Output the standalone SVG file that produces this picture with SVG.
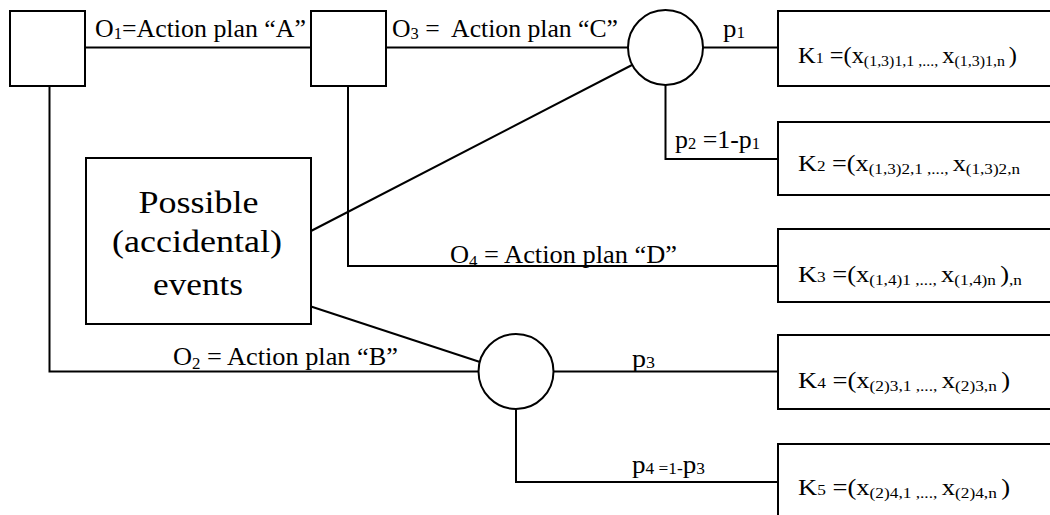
<svg xmlns="http://www.w3.org/2000/svg" width="1050" height="515" viewBox="0 0 1050 515">
<style>
  .ln { stroke:#000; stroke-width:2; fill:none; }
  .bx { stroke:#000; stroke-width:2; fill:#fff; }
  .lbl { font-size:25px; }
  .k { font-size:23px; }
  .big { font-size:31px; }
  .s { font-size:15px; }
  .s2 { font-size:16px; }
</style>
<rect width="1050" height="515" fill="#fff"/>
<g id="connectors" font-family="'Liberation Serif', serif" fill="#000">
  <line class="ln" x1="85" y1="47.5" x2="311" y2="47.5"/>
  <line class="ln" x1="386" y1="47.5" x2="628" y2="47.5"/>
  <line class="ln" x1="703" y1="47.5" x2="778" y2="47.5"/>
  <polyline class="ln" points="665.5,85 665.5,159 778,159"/>
  <line class="ln" x1="311" y1="231" x2="632" y2="65"/>
  <polyline class="ln" points="49.5,86 49.5,371.5 478.5,371.5"/>
  <polyline class="ln" points="348,86 348,266 778,266"/>
  <line class="ln" x1="311" y1="306.5" x2="480" y2="362"/>
  <line class="ln" x1="553.5" y1="371.5" x2="778" y2="371.5"/>
  <polyline class="ln" points="516,409.5 516,482 778,482"/>
  <text class="lbl" font-family="'Liberation Serif', serif" x="95" y="37" textLength="211" lengthAdjust="spacingAndGlyphs">O<tspan class="s2" dy="2">1</tspan><tspan dy="-2">=Action plan “A”</tspan></text>
  <text class="lbl" font-family="'Liberation Serif', serif" x="392" y="37" textLength="226" lengthAdjust="spacingAndGlyphs" xml:space="preserve">O<tspan class="s2" dy="2">3</tspan><tspan dy="-2"> =  Action plan “C”</tspan></text>
  <text class="lbl" font-family="'Liberation Serif', serif" x="723" y="37" textLength="22" lengthAdjust="spacingAndGlyphs">p<tspan class="s2" dy="1">1</tspan></text>
  <text class="lbl" font-family="'Liberation Serif', serif" x="675" y="148" textLength="85" lengthAdjust="spacingAndGlyphs">p<tspan class="s2" dy="1">2</tspan><tspan dy="-1"> =1-p</tspan><tspan class="s2" dy="1">1</tspan></text>
  <text class="lbl" font-family="'Liberation Serif', serif" x="450" y="263" textLength="227" lengthAdjust="spacingAndGlyphs">O<tspan class="s2" dy="4">4</tspan><tspan dy="-4"> = Action plan “D”</tspan></text>
  <text class="lbl" font-family="'Liberation Serif', serif" x="173" y="365" textLength="225" lengthAdjust="spacingAndGlyphs">O<tspan class="s2" dy="4">2</tspan><tspan dy="-4"> = Action plan “B”</tspan></text>
  <text class="lbl" font-family="'Liberation Serif', serif" x="632" y="367" textLength="23" lengthAdjust="spacingAndGlyphs">p<tspan class="s2" dy="1">3</tspan></text>
  <text class="lbl" font-family="'Liberation Serif', serif" x="632" y="473" textLength="73" lengthAdjust="spacingAndGlyphs">p<tspan class="s2" dy="1">4 =1-</tspan><tspan dy="-1">p</tspan><tspan class="s2" dy="1">3</tspan></text>
</g>
<g id="node-a"><rect class="bx" x="10" y="11" width="75" height="75"/></g>
<g id="node-b"><rect class="bx" x="311" y="11" width="75" height="75"/></g>
<g id="chance-1"><circle class="bx" cx="665.5" cy="47.5" r="37.5"/></g>
<g id="chance-2"><circle class="bx" cx="516" cy="371.5" r="37.5"/></g>
<g id="events" font-family="'Liberation Serif', serif">
  <rect class="bx" x="86" y="158" width="225" height="166"/>
  <text class="big" font-family="'Liberation Serif', serif" x="198.5" y="213" text-anchor="middle" textLength="120" lengthAdjust="spacingAndGlyphs">Possible</text>
  <text class="big" font-family="'Liberation Serif', serif" x="197" y="252" text-anchor="middle" textLength="170" lengthAdjust="spacingAndGlyphs">(accidental)</text>
  <text class="big" font-family="'Liberation Serif', serif" x="198" y="295" text-anchor="middle" textLength="90" lengthAdjust="spacingAndGlyphs">events</text>
</g>
<g id="k1" font-family="'Liberation Serif', serif">
  <rect class="bx" x="778" y="11" width="290" height="75"/>
  <text class="k" font-family="'Liberation Serif', serif" x="798" y="63" textLength="219" lengthAdjust="spacingAndGlyphs">K<tspan class="s">1</tspan> =(x<tspan class="s" dy="3">(1,3)1,1 ,..., </tspan><tspan dy="-3">x</tspan><tspan class="s" dy="3">(1,3)1,n </tspan><tspan dy="-3">)</tspan></text>
</g>
<g id="k2" font-family="'Liberation Serif', serif">
  <rect class="bx" x="778" y="122" width="290" height="73"/>
  <text class="k" font-family="'Liberation Serif', serif" x="798" y="171" textLength="222" lengthAdjust="spacingAndGlyphs">K<tspan class="s">2</tspan> =(x<tspan class="s" dy="3">(1,3)2,1 ,..., </tspan><tspan dy="-3">x</tspan><tspan class="s" dy="3">(1,3)2,n</tspan></text>
</g>
<g id="k3" font-family="'Liberation Serif', serif">
  <rect class="bx" x="778" y="229" width="290" height="73"/>
  <text class="k" font-family="'Liberation Serif', serif" x="798" y="282" textLength="224" lengthAdjust="spacingAndGlyphs">K<tspan class="s">3</tspan> =(x<tspan class="s" dy="3">(1,4)1 ,..., </tspan><tspan dy="-3">x</tspan><tspan class="s" dy="3">(1,4)n </tspan><tspan dy="-3">)</tspan><tspan class="s" dy="3">,n</tspan></text>
</g>
<g id="k4" font-family="'Liberation Serif', serif">
  <rect class="bx" x="778" y="335" width="290" height="74"/>
  <text class="k" font-family="'Liberation Serif', serif" x="798" y="388" textLength="212" lengthAdjust="spacingAndGlyphs">K<tspan class="s">4</tspan> =(x<tspan class="s" dy="3">(2)3,1 ,..., </tspan><tspan dy="-3">x</tspan><tspan class="s" dy="3">(2)3,n </tspan><tspan dy="-3">)</tspan></text>
</g>
<g id="k5" font-family="'Liberation Serif', serif">
  <rect class="bx" x="778" y="444" width="290" height="90"/>
  <text class="k" font-family="'Liberation Serif', serif" x="798" y="495" textLength="212" lengthAdjust="spacingAndGlyphs">K<tspan class="s">5</tspan> =(x<tspan class="s" dy="3">(2)4,1 ,..., </tspan><tspan dy="-3">x</tspan><tspan class="s" dy="3">(2)4,n </tspan><tspan dy="-3">)</tspan></text>
</g>
</svg>
